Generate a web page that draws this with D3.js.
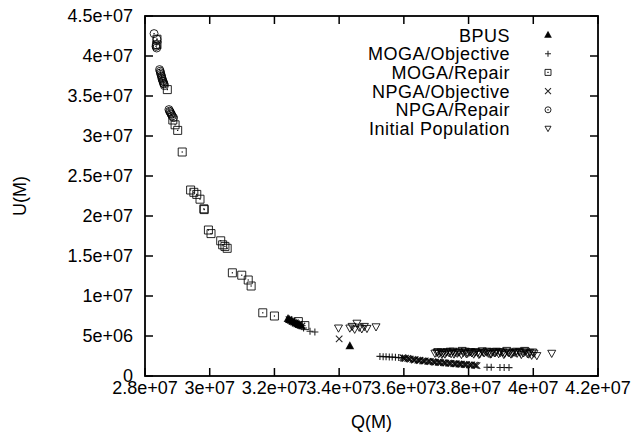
<!DOCTYPE html>
<html><head><meta charset="utf-8">
<script src="https://cdn.jsdelivr.net/npm/d3@7"></script>
<style>
html,body{margin:0;padding:0;background:#fff;}
svg text{font-family:"Liberation Sans",Arial,Helvetica,sans-serif;fill:#000;}
</style></head>
<body>
<svg id="c" width="637" height="434"></svg>
<script>
// ---- data (values in millions) ----
const xTicks = [28, 30, 32, 34, 36, 38, 40, 42];
const xTickLabels = ["2.8e+07","3e+07","3.2e+07","3.4e+07","3.6e+07","3.8e+07","4e+07","4.2e+07"];
const yTicks = [0, 5, 10, 15, 20, 25, 30, 35, 40, 45];
const yTickLabels = ["0","5e+06","1e+07","1.5e+07","2e+07","2.5e+07","3e+07","3.5e+07","4e+07","4.5e+07"];

const seriesNames = ["BPUS","MOGA/Objective","MOGA/Repair","NPGA/Objective","NPGA/Repair","Initial Population"];

const bpusQ = [32.42, 32.47, 32.52, 32.57, 32.62, 32.67, 32.72, 32.77, 32.82, 34.33];
const bpusU = [7.15, 7.02, 6.92, 6.8, 6.7, 6.6, 6.5, 6.4, 6.3, 3.75];

const mogaObjQ = [32.9, 33.1, 33.25, 35.26, 35.36, 35.45, 35.55, 35.64, 35.74, 35.84, 35.95, 38.57, 38.70, 38.97, 39.10, 39.25];
const mogaObjU = [6.0, 5.6, 5.5, 2.45, 2.4, 2.42, 2.38, 2.36, 2.33, 2.3, 2.26, 1.1, 1.08, 1.06, 1.06, 1.05];

const mogaRepQ = [28.37, 28.37, 28.69, 28.86, 28.93, 29.01, 29.15, 29.41, 29.51, 29.60, 29.70, 29.82, 29.83, 29.96, 30.04, 30.34, 30.40, 30.47, 30.54, 30.70, 30.99, 31.19, 31.28, 31.64, 32.00, 32.74, 32.94];
const mogaRepU = [42.1, 41.4, 35.8, 32.0, 31.4, 30.7, 28.0, 23.25, 22.96, 22.7, 22.1, 20.9, 20.8, 18.25, 17.8, 16.9, 16.4, 16.2, 15.96, 12.9, 12.6, 12.0, 11.25, 7.9, 7.5, 6.8, 6.3];

const npgaObjQ = [32.45, 32.55, 32.65, 32.75, 32.85, 34.0,
  35.97, 36.05, 36.12, 36.2, 36.28, 36.35, 36.43, 36.5, 36.58, 36.66, 36.74, 36.82, 36.9, 36.98, 37.06,
  37.14, 37.22, 37.3, 37.38, 37.46, 37.54, 37.62, 37.7, 37.78, 37.86, 37.94, 38.02, 38.1, 38.18, 38.26,
  36.0, 36.16, 36.32, 36.47, 36.62, 36.78, 36.94, 37.1, 37.26, 37.42, 37.58, 37.74, 37.9, 38.06, 38.22];
const npgaObjU = [7.05, 6.85, 6.65, 6.45, 6.25, 4.63,
  2.3, 2.22, 2.2, 2.12, 2.08, 2.05, 1.98, 1.97, 1.9, 1.88, 1.84, 1.8, 1.79, 1.74, 1.72,
  1.68, 1.66, 1.62, 1.6, 1.58, 1.54, 1.53, 1.5, 1.47, 1.46, 1.42, 1.4, 1.38, 1.35, 1.3,
  2.2, 2.15, 2.0, 1.92, 1.86, 1.83, 1.74, 1.7, 1.63, 1.57, 1.52, 1.49, 1.41, 1.37, 1.33];

const npgaRepQ = [28.28, 28.37, 28.35, 28.36, 28.34, 28.45, 28.47, 28.48, 28.49, 28.51, 28.52, 28.53, 28.55, 28.56, 28.57, 28.59, 28.60, 28.74, 28.76, 28.78, 28.80, 28.82, 28.84, 28.88];
const npgaRepU = [42.8, 42.1, 41.4, 41.0, 41.2, 38.3, 38.1, 37.9, 37.7, 37.5, 37.3, 37.1, 36.9, 36.8, 36.6, 36.5, 36.3, 33.3, 33.1, 33.0, 32.8, 32.7, 32.5, 32.3];

const initQ = [33.98, 34.33, 34.40, 34.48, 34.55, 34.62, 34.70, 34.78, 34.86, 35.14,
  36.96, 37.02, 37.08, 37.15, 37.2, 37.27, 37.33, 37.4, 37.46, 37.52, 37.58, 37.65, 37.71, 37.78, 37.84, 37.9, 37.97,
  38.03, 38.1, 38.16, 38.22, 38.29, 38.35, 38.42, 38.48, 38.55, 38.61, 38.67, 38.74, 38.8, 38.86, 38.93, 38.99,
  39.06, 39.12, 39.18, 39.25, 39.31, 39.38, 39.44, 39.5, 39.57, 39.63, 39.7, 39.76, 39.82, 39.89, 39.95, 40.02, 40.11, 40.57,
  37.05, 37.18, 37.3, 37.43, 37.55, 37.68, 37.8, 37.93, 38.06, 38.19, 38.32, 38.45, 38.58, 38.7, 38.83, 38.96,
  39.09, 39.22, 39.35, 39.48, 39.6, 39.73, 39.86, 39.98];
const initU = [6.0, 6.0, 6.2, 5.85, 6.6, 6.1, 5.9, 6.2, 5.95, 6.15,
  2.85, 2.95, 2.8, 3.0, 2.9, 2.75, 3.05, 2.9, 2.8, 3.1, 2.95, 2.85, 3.0, 2.7, 2.95, 3.1, 2.85,
  3.0, 2.9, 2.75, 3.05, 2.95, 2.8, 3.15, 2.9, 3.0, 2.85, 2.75, 3.05, 2.9, 3.1, 2.8, 2.95,
  3.0, 2.85, 3.2, 2.9, 2.75, 3.0, 2.95, 2.85, 3.05, 2.7, 2.9, 3.1, 2.8, 2.95, 2.6, 2.85, 2.55, 2.84,
  3.05, 2.7, 2.95, 3.1, 2.75, 3.0, 3.2, 2.8, 3.05, 2.95, 2.7, 3.0, 3.1, 2.8, 2.95, 3.05,
  2.7, 3.0, 2.85, 3.1, 2.95, 3.2, 2.75, 3.0];

// ---- layout ----
const mLeft = 145, mRight = 598, mTop = 16, mBottom = 376;
const svg = d3.select("#c");
const x = d3.scaleLinear().domain([28e6, 42e6]).range([mLeft, mRight]);
const y = d3.scaleLinear().domain([0, 45e6]).range([mBottom, mTop]);
const M = 1e6;

// marker shapes
function markerPath(type, s) {
  const h = s / 2;
  switch (type) {
    case "tri": return `M0,${-h*1.05}L${h},${h*0.75}L${-h},${h*0.75}Z`;
    case "plus": return `M${-h},0H${h}M0,${-h}V${h}`;
    case "square": return `M${-h},${-h}H${h}V${h}H${-h}Z`;
    case "x": return `M${-h},${-h}L${h},${h}M${h},${-h}L${-h},${h}`;
    case "circle": return `M${h},0A${h},${h} 0 1,1 ${-h},0A${h},${h} 0 1,1 ${h},0Z`;
    case "itri": return `M${-h},${-h*0.75}H${h}L0,${h*1.05}Z`;
  }
}
const markerTypes = ["tri","plus","square","x","circle","itri"];

function drawMarker(g, type, s, dot) {
  const filled = type === "tri";
  g.append("path").attr("d", markerPath(type, s))
    .attr("fill", filled ? "#000" : "none")
    .attr("stroke", "#000").attr("stroke-width", type==="square"||type==="circle"||type==="itri" ? 1 : 1.1)
    .attr("stroke-opacity", 0.85);
  if (dot) g.append("rect").attr("x", -0.6).attr("y", -0.6).attr("width", 1.2).attr("height", 1.2).attr("fill", "#000");
}

const seriesData = [
  [bpusQ, bpusU], [mogaObjQ, mogaObjU], [mogaRepQ, mogaRepU],
  [npgaObjQ, npgaObjU], [npgaRepQ, npgaRepU], [initQ, initU]
];
const markerSizes = [7, 7, 8, 6.5, 8, 8];

// ---- frame & ticks ----
const axisG = svg.append("g");
xTicks.forEach((t, i) => {
  const px = x(t * M);
  axisG.append("line").attr("x1", px).attr("x2", px).attr("y1", mBottom).attr("y2", mBottom - 8).attr("stroke", "#000").attr("stroke-width", 1.5);
  axisG.append("line").attr("x1", px).attr("x2", px).attr("y1", mTop).attr("y2", mTop + 8).attr("stroke", "#000").attr("stroke-width", 1.5);
  axisG.append("text").attr("x", px).attr("y", mBottom + 17.5).attr("text-anchor", "middle")
    .style("font-size", "18px").text(xTickLabels[i]);
});
yTicks.forEach((t, i) => {
  const py = y(t * M);
  axisG.append("line").attr("x1", mLeft).attr("x2", mLeft + 8).attr("y1", py).attr("y2", py).attr("stroke", "#000").attr("stroke-width", 1.5);
  axisG.append("line").attr("x1", mRight).attr("x2", mRight - 8).attr("y1", py).attr("y2", py).attr("stroke", "#000").attr("stroke-width", 1.5);
  axisG.append("text").attr("x", mLeft - 12).attr("y", py + 5.5).attr("text-anchor", "end")
    .style("font-size", "18px").text(yTickLabels[i]);
});
axisG.append("rect").attr("x", mLeft).attr("y", mTop).attr("width", mRight - mLeft).attr("height", mBottom - mTop)
  .attr("fill", "none").attr("stroke", "#000").attr("stroke-width", 1.8);

// axis titles
svg.append("text").attr("x", (mLeft + mRight) / 2).attr("y", 428).attr("text-anchor", "middle")
  .style("font-size", "18px").text("Q(M)");
svg.append("text").attr("transform", `translate(26,${(mTop + mBottom) / 2}) rotate(-90)`).attr("text-anchor", "middle")
  .style("font-size", "18px").text("U(M)");

// ---- points ----
seriesData.forEach(([qs, us], si) => {
  const type = markerTypes[si];
  const g = svg.append("g");
  qs.forEach((q, j) => {
    const mg = g.append("g").attr("transform", `translate(${x(q * M)},${y(us[j] * M)})`);
    drawMarker(mg, type, markerSizes[si], type === "square" || type === "circle");
  });
});

// ---- legend ----
const legY0 = 35, legStep = 18.7;
seriesNames.forEach((name, i) => {
  const ly = legY0 + i * legStep;
  svg.append("text").attr("x", 510).attr("y", ly + 6.5).attr("text-anchor", "end")
    .style("font-size", "18px").style("letter-spacing", "0.5px").text(name);
  const mg = svg.append("g").attr("transform", `translate(548,${ly})`);
  drawMarker(mg, markerTypes[i], 6, markerTypes[i] === "square" || markerTypes[i] === "circle");
});
</script>
</body></html>
